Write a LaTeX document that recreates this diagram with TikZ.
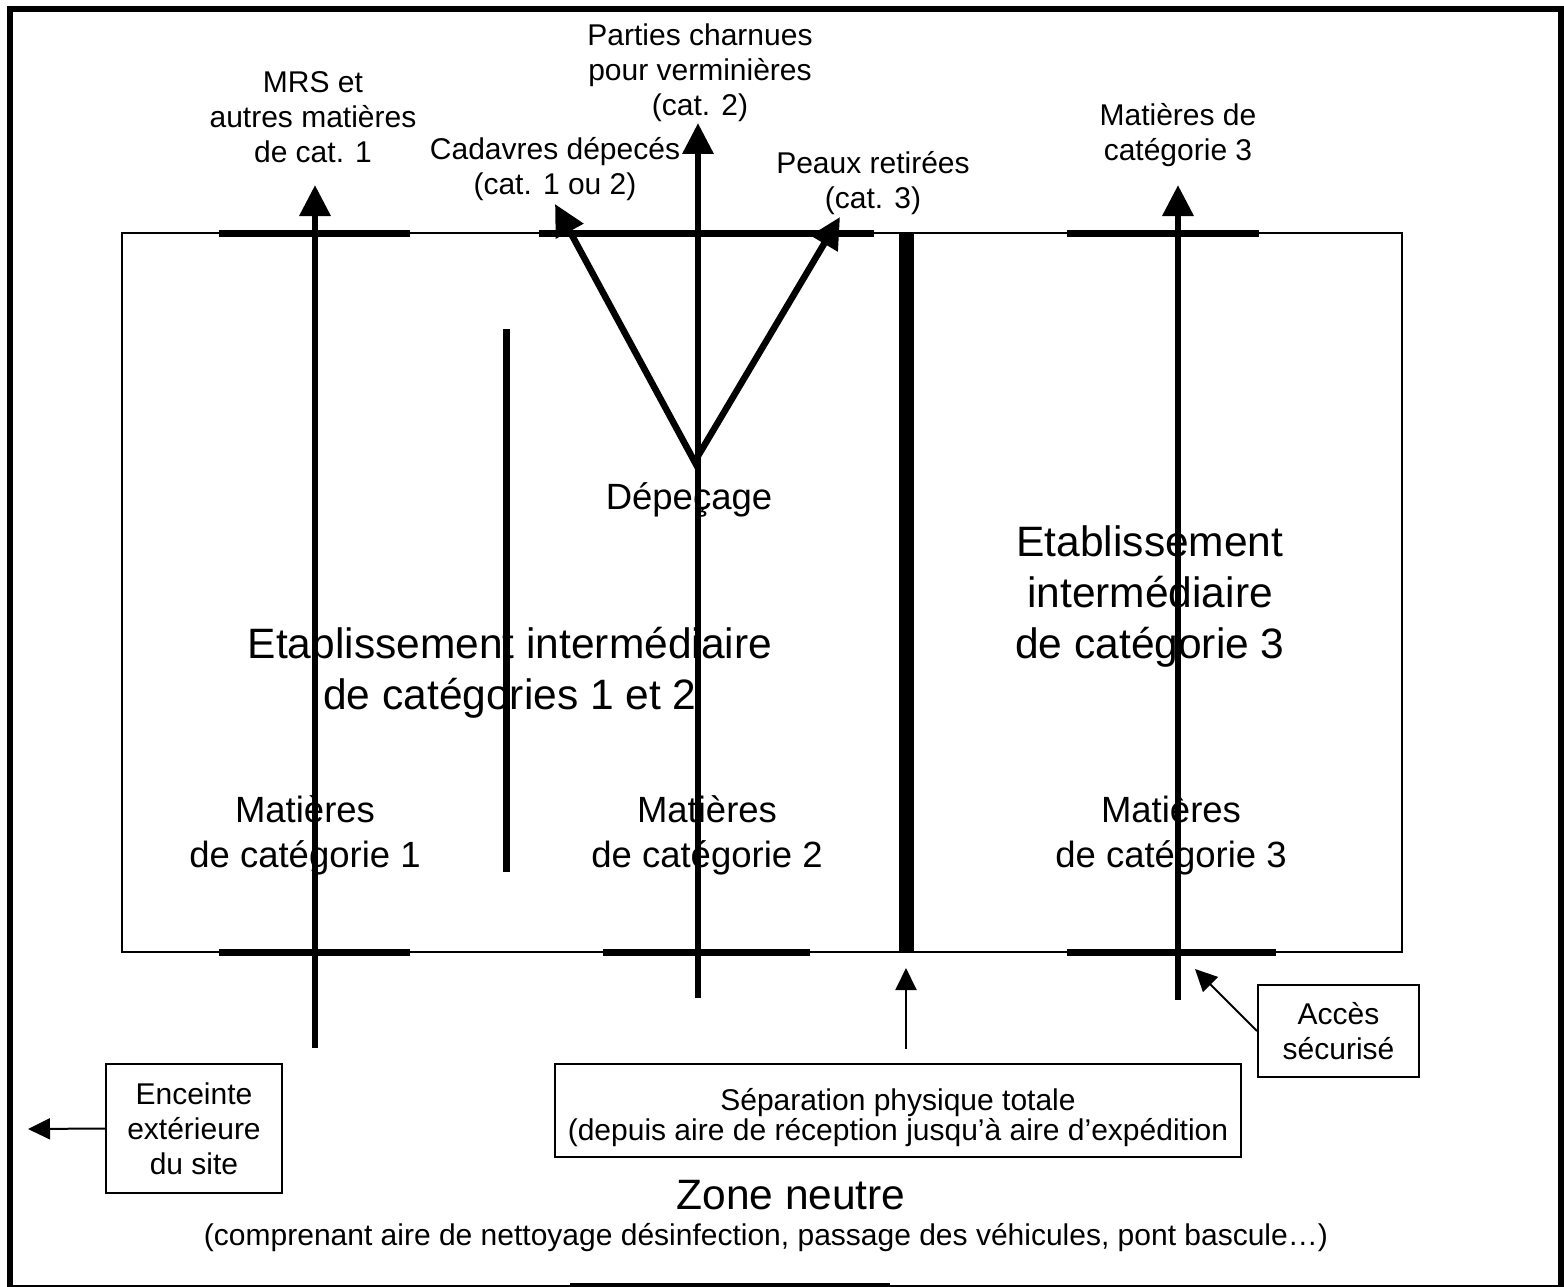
\documentclass[tikz,border=0pt]{standalone}
\usepackage{fontspec}
\setmainfont{Liberation Sans}
\usetikzlibrary{arrows.meta}
\begin{document}
\begin{tikzpicture}[x=1pt,y=-1pt,
  small/.style={font=\fontsize{30}{35}\selectfont, align=center, inner sep=0pt},
  mid/.style={font=\fontsize{36.5}{45}\selectfont, align=center, inner sep=0pt},
  big/.style={font=\fontsize{42.5}{51}\selectfont, align=center, inner sep=0pt},
  labelbox/.style={draw, line width=2pt, small, inner sep=0pt},
  flow/.style={line width=6.5pt, -{Triangle[width=30pt,length=31pt]}},
  thinflow/.style={line width=2pt, -{Triangle[width=21pt,length=22pt]}},
  gate/.style={line width=7pt},
  wall/.style={line width=15pt}]
\useasboundingbox (0,0) rectangle (1564,1287);
% outer site enclosure
\draw[line width=6pt] (10,9) rectangle (1561,1288);
\draw[line width=10pt] (570,1288) -- (890,1288);
% building
\draw[line width=2pt] (122,233) rectangle (1402,952);
% gates
\draw[gate] (219,233) -- (410,233);
\draw[gate] (539,233) -- (874,233);
\draw[gate] (1067,233) -- (1259,233);
\draw[gate] (219,952) -- (410,952);
\draw[gate] (603,952) -- (810,952);
\draw[gate] (1067,952) -- (1276,952);
% separations
\draw[wall] (906.5,233) -- (906.5,952);
\draw[line width=7pt] (506.5,329) -- (506.5,872);
% coordinates
\coordinate (c1in) at (315,1048);
\coordinate (c1out) at (315,185);
\coordinate (c2in) at (698,998);
\coordinate (c2out) at (698,123);
\coordinate (c3in) at (1178,1000);
\coordinate (c3out) at (1178,185);
\coordinate (jl) at (698,468);
\coordinate (jr) at (698,456);
\coordinate (cadout) at (555,204);
\coordinate (peauout) at (840,217);
\coordinate (sepfoot) at (906,1049);
\coordinate (septip) at (906,968);
\coordinate (acctip) at (1195,969);
\coordinate (enctip) at (28,1129);
% flows
\draw[flow] (c1in) -- (c1out);
\draw[flow] (c2in) -- (c2out);
\draw[flow] (c3in) -- (c3out);
\draw[flow] (jl) -- (cadout);
\draw[flow] (jr) -- (peauout);
% labels
\node[small] (mrs) at (313,117) {MRS et\\autres matières\\de cat. 1};
\node[small] (parties) at (700,73) {Parties charnues\\pour verminières\\(cat. 2)};
\node[small] (cadavres) at (555,169.5) {Cadavres dépecés\\(cat. 1 ou 2)};
\node[small] (peaux) at (873,183) {Peaux retirées\\(cat. 3)};
\node[small] (mat3out) at (1178,135) {Matières de\\catégorie 3};
\node[mid] (depecage) at (689,500) {Dépeçage};
\node[big] (etab12) at (510,673) {Etablissement intermédiaire\\de catégories 1 et 2};
\node[big] (etab3) at (1150,597) {Etablissement\\intermédiaire\\de catégorie 3};
\node[mid] (mat1) at (305,835.5) {Matières\\de catégorie 1};
\node[mid] (mat2) at (707,835.5) {Matières\\de catégorie 2};
\node[mid] (mat3) at (1171,835.5) {Matières\\de catégorie 3};
% boxes
\node[labelbox, minimum width=686pt, minimum height=93pt] (sep) at (898,1110.5)
  {\rule{0pt}{36pt}Séparation physique totale\\[-5pt](depuis aire de réception jusqu’à aire d’expédition};
\node[labelbox, minimum width=161pt, minimum height=92pt] (acc) at (1338.5,1031)
  {Accès\\sécurisé};
\node[labelbox, minimum width=176pt, minimum height=129pt] (enc) at (194,1128.5)
  {Enceinte\\extérieure\\du site};
\node[big] (zone) at (791,1195) {Zone neutre};
\node[small] (zonesub) at (766,1238) {(comprenant aire de nettoyage désinfection, passage des véhicules, pont bascule…)};
% pointers
\draw[thinflow] (sepfoot) -- (septip);
\draw[thinflow] (acc.west) -- (acctip);
\draw[thinflow] (enc.west) -- (enctip);
\end{tikzpicture}
\end{document}
